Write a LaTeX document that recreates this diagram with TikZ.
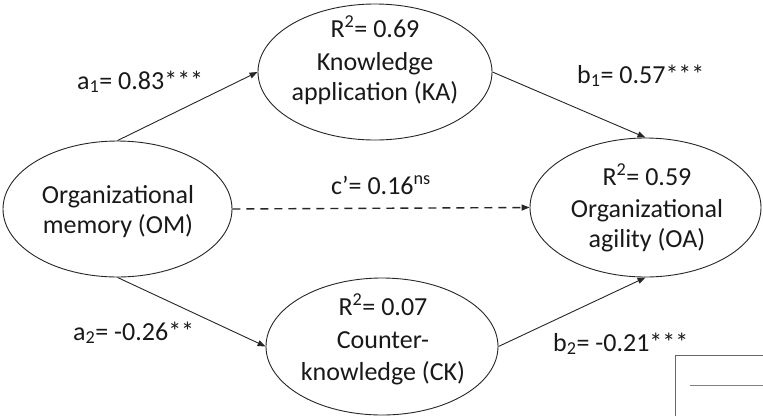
\documentclass[tikz,border=0pt]{standalone}
\usepackage{fontspec}
\setmainfont{Carlito}
\usetikzlibrary{arrows.meta,shapes.geometric}
\tikzset{
  oval/.style={draw=black!85, line width=0.9pt, ellipse, inner sep=0pt},
  txt/.style={anchor=base, inner sep=0pt, text=black!90, font=\fontsize{26}{31}\selectfont},
  lbl/.style={anchor=base west, inner sep=0pt, text=black!90, font=\fontsize{26}{31}\selectfont},
  arr/.style={draw=black!85, line width=0.9pt, -{Triangle[length=8pt,width=6pt]}},
  dasharr/.style={arr, line width=1.4pt, dash pattern=on 8pt off 6pt},
}
\begin{document}
\begin{tikzpicture}[x=1pt,y=-1pt]
\useasboundingbox (0,0) rectangle (763,416);
\fill[white] (0,0) rectangle (763,416);
% ellipses
\node[oval, minimum width=229pt, minimum height=136pt] (om) at (117.5,209) {};
\node[oval, minimum width=234pt, minimum height=136pt] (ka) at (375,72) {};
\node[oval, minimum width=232pt, minimum height=137pt] (ck) at (382,346.5) {};
\node[oval, minimum width=231pt, minimum height=139pt] (oa) at (645.5,207.5) {};
% ellipse texts
\node[txt] (om1) at (118,203) {Organizational};
\node[txt] (om2) at (118,233) {memory (OM)};
\node[txt] (ka1) at (375,37) {R\textsuperscript{2}= 0.69};
\node[txt] (ka2) at (375,70) {Knowledge};
\node[txt] (ka3) at (375,100) {application (KA)};
\node[txt] (ck1) at (383,315) {R\textsuperscript{2}= 0.07};
\node[txt] (ck2) at (383,348) {Counter-};
\node[txt] (ck3) at (383,380) {knowledge (CK)};
\node[txt] (oa1) at (647,185) {R\textsuperscript{2}= 0.59};
\node[txt] (oa2) at (647,217) {Organizational};
\node[txt] (oa3) at (647,247) {agility (OA)};
% connectors
\draw[arr] (om.north) -- (ka.west);
\draw[arr] (ka.east) -- (oa.north);
\draw[dasharr] (om.east) -- (oa.west);
\draw[arr] (om.south) -- (ck.west);
\draw[arr] (ck.east) -- (oa.south);
% path labels
\node[lbl] (la1) at (77,89) {a\textsubscript{1}= 0.83***};
\node[lbl] (lb1) at (577,83) {b\textsubscript{1}= 0.57***};
\node[txt] (lc) at (381,194) {c’= 0.16\textsuperscript{ns}};
\node[lbl] (la2) at (73,340) {a\textsubscript{2}= -0.26**};
\node[lbl] (lb2) at (553,351) {b\textsubscript{2}= -0.21***};
% cropped box at bottom right
\draw[black!60, line width=1pt] (675,416) -- (675,355) -- (763,355);
\draw[black!50, line width=1pt] (690,385) -- (763,385);
\end{tikzpicture}
\end{document}
